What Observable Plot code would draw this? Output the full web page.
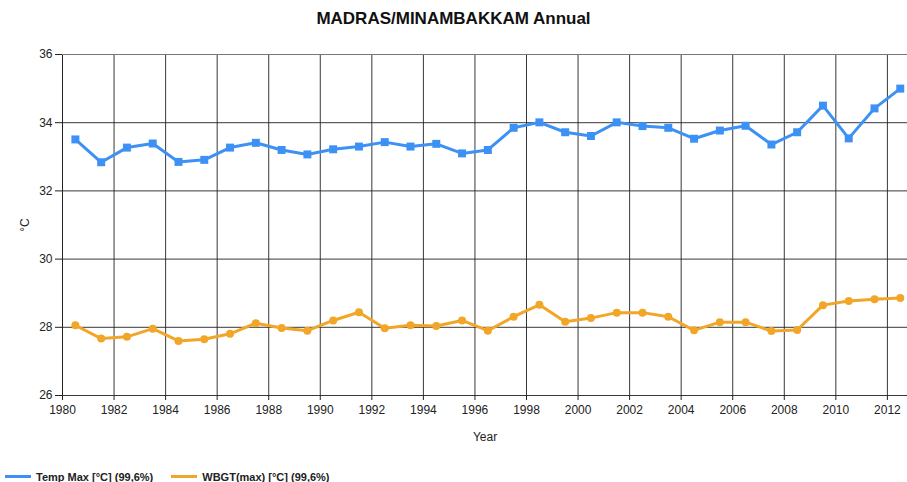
<!DOCTYPE html>
<html>
<head>
<meta charset="utf-8">
<script src="https://cdn.jsdelivr.net/npm/d3@7"></script>
<script src="https://cdn.jsdelivr.net/npm/@observablehq/plot@0.6"></script>
<style>
  html, body { margin: 0; padding: 0; background: #fff; }
  body { width: 907px; height: 482px; overflow: hidden; font-family: "Liberation Sans", Arial, sans-serif; }
  #title { height: 40px; line-height: 38px; text-align: center; font-weight: bold; font-size: 17px; color: #111; }
  #legend { display: flex; align-items: center; height: 27px; padding-left: 5px; padding-top: 8px; font-size: 11px; font-weight: bold; color: #222; }
  .sw { display: inline-block; width: 26px; height: 3px; margin-right: 5px; vertical-align: middle; }
  .item { display: flex; align-items: center; margin-right: 18px; }
</style>
</head>
<body>
<div id="title">MADRAS/MINAMBAKKAM Annual</div>
<div id="chart"></div>
<div id="legend"></div>
<script>
const years = d3.range(1980.5, 2013, 1);
const tempMax = [33.51, 32.84, 33.27, 33.39, 32.85, 32.91, 33.27, 33.41, 33.20, 33.07, 33.22, 33.30, 33.43, 33.30, 33.38,
                 33.10, 33.20, 33.85, 34.01, 33.72, 33.61, 34.01, 33.90, 33.85, 33.53, 33.77, 33.91, 33.36, 33.72, 34.50, 33.54, 34.42, 35.00];
const wbgtMax = [28.06, 27.67, 27.72, 27.96, 27.60, 27.65, 27.81, 28.12, 27.98, 27.90, 28.20, 28.44, 27.97, 28.06, 28.04,
                 28.20, 27.90, 28.31, 28.66, 28.16, 28.27, 28.43, 28.43, 28.31, 27.91, 28.15, 28.15, 27.89, 27.92, 28.65, 28.77, 28.82, 28.86];
const seriesNames = ["Temp Max [°C] (99,6%)", "WBGT(max) [°C] (99,6%)"];
const seriesColors = ["#3d91f5", "#f2a628"];
const xTicks = d3.range(1980, 2013, 2);
const yTicks = [26, 28, 30, 32, 34, 36];

const temp = years.map((y, i) => ({year: y, v: tempMax[i]}));
const wbgt = years.map((y, i) => ({year: y, v: wbgtMax[i]}));

const chart = Plot.plot({
  width: 907,
  height: 415,
  marginLeft: 62,
  marginRight: 0,
  marginTop: 14,
  marginBottom: 60,
  style: {fontFamily: "Liberation Sans, Arial, sans-serif", fontSize: "12px", color: "#222", background: "#fff"},
  x: {domain: [1980, 2012.78], ticks: xTicks, tickFormat: "d"},
  y: {domain: [26, 36], ticks: yTicks},
  marks: [
    Plot.gridX(xTicks, {stroke: "#222", strokeOpacity: 0.9, strokeWidth: 1}),
    Plot.gridY(yTicks, {stroke: "#222", strokeOpacity: 0.9, strokeWidth: 1}),
    Plot.ruleX([1980], {stroke: "#222"}),
    Plot.ruleY([36], {stroke: "#777"}),
    Plot.axisX({ticks: xTicks, tickFormat: "d", tickSize: 5, tickPadding: 5, label: "Year", labelAnchor: "center", labelArrow: "none", labelOffset: 45, fontSize: 12}),
    Plot.axisY({ticks: yTicks, tickSize: 7, tickPadding: 3, label: "°C", labelAnchor: "center", labelArrow: "none", labelOffset: 42, fontSize: 12}),
    Plot.line(temp, {x: "year", y: "v", stroke: seriesColors[0], strokeWidth: 3}),
    Plot.dot(temp, {x: "year", y: "v", symbol: "square", r: 4.5, fill: seriesColors[0], stroke: "none"}),
    Plot.line(wbgt, {x: "year", y: "v", stroke: seriesColors[1], strokeWidth: 3}),
    Plot.dot(wbgt, {x: "year", y: "v", symbol: "circle", r: 4, fill: seriesColors[1], stroke: "none"})
  ]
});
document.getElementById("chart").appendChild(chart);

const legend = document.getElementById("legend");
seriesNames.forEach((n, i) => {
  const it = document.createElement("span");
  it.className = "item";
  const sw = document.createElement("span");
  sw.className = "sw";
  sw.style.background = seriesColors[i];
  it.appendChild(sw);
  it.appendChild(document.createTextNode(n));
  legend.appendChild(it);
});
</script>
</body>
</html>
